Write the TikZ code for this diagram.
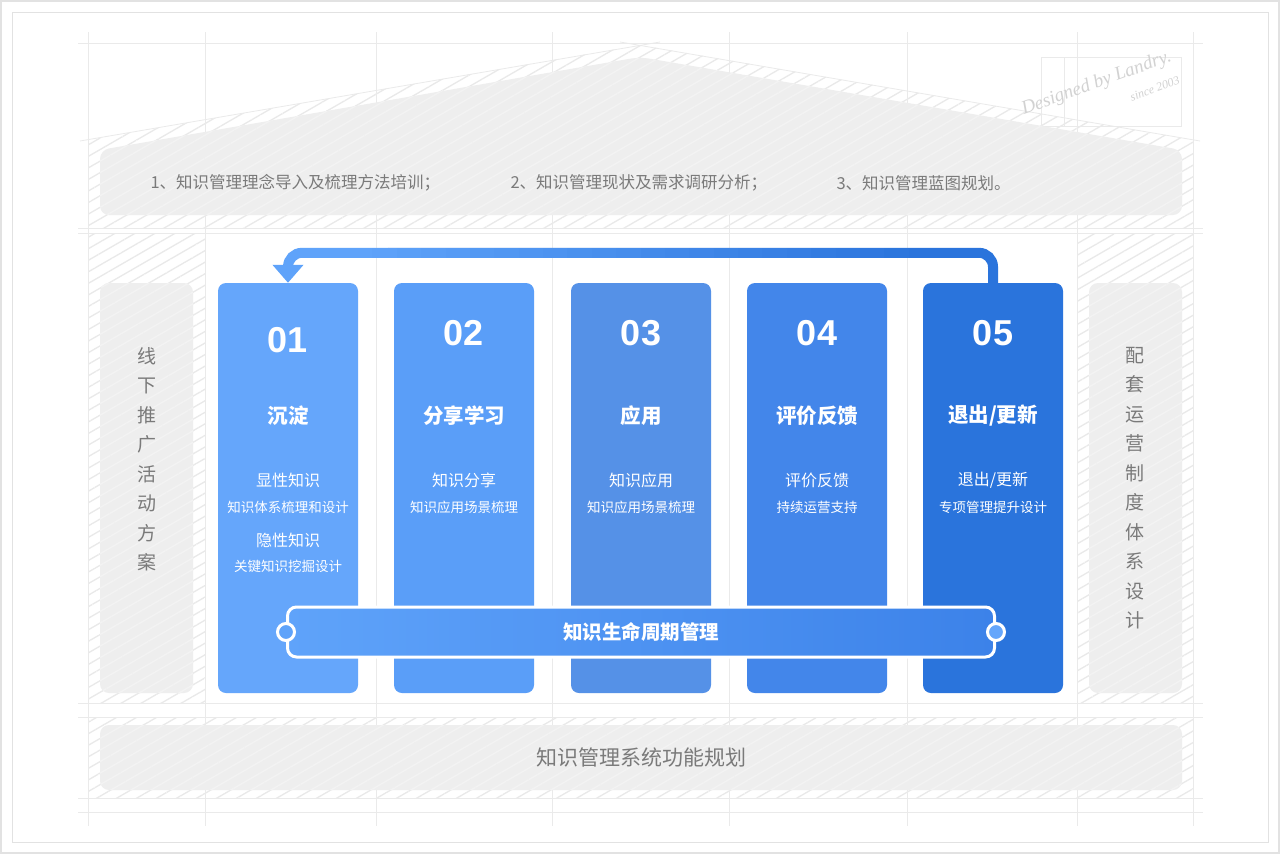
\documentclass[tikz,border=0pt]{standalone}
\usepackage{fontspec}
\setmainfont{Noto Sans CJK SC}
\newfontfamily\numfont{Liberation Sans}
\newfontfamily\signfont{Liberation Serif}
\usetikzlibrary{patterns.meta,arrows.meta,calc}

\begin{document}
\begin{tikzpicture}[x=1pt,y=-1pt,
  gridline/.style={draw=gridgray,line width=0.8pt},
  hatch/.style={pattern={Lines[angle=30,distance=10pt,line width=1.3pt]},pattern color=hatchgray},
  panel/.style={fill=panelgray,rounded corners=9pt,
    postaction={pattern={Lines[angle=30,distance=10pt,line width=1.3pt]},pattern color=panelstripe}},
  pillar/.style={rectangle,rounded corners=8pt,minimum width=140pt,minimum height=410pt,inner sep=0pt},
  numtext/.style={font=\numfont\bfseries\fontsize{36}{36}\selectfont,text=white},
  titletext/.style={font=\bfseries\fontsize{20.5}{22}\selectfont,text=white},
  subhead/.style={font=\fontsize{16}{18}\selectfont,text=white},
  subline/.style={font=\fontsize{13.5}{15}\selectfont,text=white},
  toptext/.style={font=\fontsize{16.5}{18}\selectfont,text=textgray,anchor=west},
  sidetext/.style={font=\fontsize{19}{29.5}\selectfont,text=textgray,align=center},
  signtext/.style={text=signgray,rotate=20,align=right,inner sep=0pt},
  loopline/.style={line width=10pt,rounded corners=14pt},
  lifebar/.style={rectangle,rounded corners=9pt,minimum width=707pt,minimum height=50pt,
    draw=white,line width=3pt,left color=barleft,right color=barright,text=white,
    font=\bfseries\fontsize{19.5}{21}\selectfont},
  joint/.style={circle,draw=white,line width=3pt,fill=barleft,minimum size=17pt,inner sep=0pt}]
  \definecolor{gridgray}{HTML}{EAEAEA}
  \definecolor{hatchgray}{HTML}{E9E9E9}
  \definecolor{panelgray}{HTML}{EEEEEE}
  \definecolor{panelstripe}{HTML}{F3F3F3}
  \definecolor{textgray}{HTML}{7A7A7A}
  \definecolor{signgray}{HTML}{D2D2D2}
  \definecolor{framegray}{HTML}{E2E2E2}
  \definecolor{pillarA}{HTML}{65A6FB}
  \definecolor{pillarB}{HTML}{5A9EF8}
  \definecolor{pillarC}{HTML}{5591E7}
  \definecolor{pillarD}{HTML}{4386EA}
  \definecolor{pillarE}{HTML}{2A74DC}
  \definecolor{barleft}{HTML}{5FA3FA}
  \definecolor{barright}{HTML}{3C82E9}

  \useasboundingbox (0,0) rectangle (1280,854);
  \fill[white] (0,0) rectangle (1280,854);
  \draw[framegray,line width=1.5pt] (1,1) rectangle (1279,853);
  \draw[framegray,line width=1pt] (12,12) rectangle (1268,842);

  % hatched frame of the house
  \path[hatch] (88,228) -- (88,140) -- (640,45) -- (1193,140) -- (1193,228) -- cycle;
  \path[hatch] (88,233) rectangle (205,703);
  \path[hatch] (1077,233) rectangle (1193,703);
  \path[hatch] (88,717) rectangle (1193,798);

  % guide lines
  \foreach \x in {88,205,376,552,729,907,1077,1193}
    \draw[gridline] (\x,32) -- (\x,826);
  \foreach \y in {43,228,233,703,717,798,812}
    \draw[gridline] (78,\y) -- (1203,\y);
  \draw[gridline] (80,141) -- (660,42);
  \draw[gridline] (620,42) -- (1200,141);

  % signature
  \draw[gridline] (1041,57) rectangle (1181,126);
  \draw[gridline] (1064,57) -- (1064,126);
  \node[signtext,font=\signfont\itshape\fontsize{19}{24}\selectfont] (sig) at (1100,93)
    {Designed by Landry.\\{\fontsize{12}{13}\selectfont since 2003}};

  % roof, side panels, base
  \fill[panel] (100,215) -- (100,150) -- (640,57) -- (1182,150) -- (1182,215) -- cycle;
  \fill[panel] (100,283) rectangle (193,693);
  \fill[panel] (1089,283) rectangle (1182,693);
  \fill[panel] (100,725) rectangle (1182,790);

  \node[toptext] (t1) at (147,183) {1、知识管理理念导入及梳理方法培训；};
  \node[toptext] (t2) at (507,183) {2、知识管理现状及需求调研分析；};
  \node[toptext] (t3) at (833,183) {3、知识管理蓝图规划。};

  \node[sidetext] (lside) at (147,459) {线\\下\\推\\广\\活\\动\\方\\案};
  \node[sidetext] (rside) at (1135,488) {配\\套\\运\\营\\制\\度\\体\\系\\设\\计};

  \node[font=\fontsize{21}{22}\selectfont,text=textgray] (base) at (641,757) {知识管理系统功能规划};

  % pillars
  \foreach \i/\x/\col in {1/288/pillarA,2/464/pillarB,3/641/pillarC,4/817/pillarD,5/993/pillarE}
    \node[pillar,fill=\col] (c\i) at (\x,488) {};

  \node[numtext] (n1) at (288,340) {01};
  \node[titletext] (h1) at (288,416) {沉淀};
  \node[subhead] (a1) at (288,480) {显性知识};
  \node[subline] (b1) at (288,507) {知识体系梳理和设计};
  \node[subhead] (a1x) at (288,540) {隐性知识};
  \node[subline] (b1x) at (288,566) {关键知识挖掘设计};

  \node[numtext] (n2) at (464,333) {02};
  \node[titletext] (h2) at (464,416) {分享学习};
  \node[subhead] (a2) at (464,480) {知识分享};
  \node[subline] (b2) at (464,507) {知识应用场景梳理};

  \node[numtext] (n3) at (641,333) {03};
  \node[titletext] (h3) at (641,416) {应用};
  \node[subhead] (a3) at (641,480) {知识应用};
  \node[subline] (b3) at (641,507) {知识应用场景梳理};

  \node[numtext] (n4) at (817,333) {04};
  \node[titletext] (h4) at (817,416) {评价反馈};
  \node[subhead] (a4) at (817,480) {评价反馈};
  \node[subline] (b4) at (817,507) {持续运营支持};

  \node[numtext] (n5) at (993,333) {05};
  \node[titletext] (h5) at (993,416) {退出/更新};
  \node[subhead] (a5) at (993,480) {退出/更新};
  \node[subline] (b5) at (993,507) {专项管理提升设计};

  % loop arrow over the pillars
  \draw[loopline,draw=pillarE] (c5.north) |- ($(c1.north)+(100,-30)$);
  \draw[loopline,draw=barleft,-{Triangle[length={18pt 0 0},width={30pt 0 0}]}] ($(c1.north)+(100,-30)$) -| (c1.north);
  \foreach \k in {0,...,23}
  {
    \pgfmathsetmacro\mix{\k*100/23}
    \draw[line width=10pt,draw=pillarE!\mix!barleft] ($(c1.north)+(60+\k*24.375,-30)$) -- ++(25.4,0);
  }

  % life cycle bar
  \node[lifebar] (life) at (641,632) {知识生命周期管理};
  \node[joint] (jl) at (life.west) {};
  \node[joint,fill=pillarA] (jr) at (life.east) {};
\end{tikzpicture}
\end{document}
